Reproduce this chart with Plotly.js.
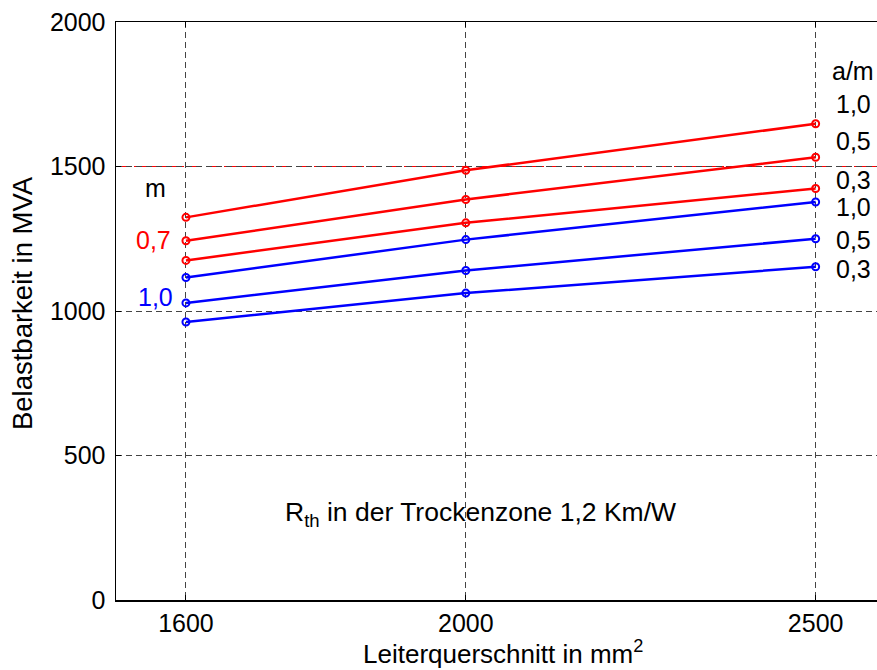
<!DOCTYPE html>
<html>
<head>
<meta charset="utf-8">
<script src="https://cdn.plot.ly/plotly-3.0.1.min.js"></script>
<style>
  html, body { margin: 0; padding: 0; background: #fff; overflow: hidden; }
  #chart { width: 877px; height: 670px; }
</style>
</head>
<body>
<div id="chart"></div>
<script>
// Leiterquerschnitt in mm^2
const querschnitt = [1600, 2000, 2500];

// m = 0,7 (red), a/m = 1,0 / 0,5 / 0,3
const rot_am10 = [1324, 1487, 1648];
const rot_am05 = [1243, 1386, 1532];
const rot_am03 = [1175, 1305, 1424];

// m = 1,0 (blue), a/m = 1,0 / 0,5 / 0,3
const blau_am10 = [1116, 1247, 1377];
const blau_am05 = [1028, 1140, 1250];
const blau_am03 = [962, 1062, 1153];

const xTicks = [1600, 2000, 2500];
const yTicks = [0, 500, 1000, 1500, 2000];
const grenzwert = 1500;

const amLabels = ["1,0", "0,5", "0,3", "1,0", "0,5", "0,3"];
const amLabelY = [1715, 1587, 1453, 1360, 1247, 1144];

const FONT = "Liberation Sans, Arial, sans-serif";
const RED = "#ff0000", BLUE = "#0000ff";

function series(y, color) {
  return {
    x: querschnitt, y: y, type: "scatter", mode: "lines+markers",
    line: { color: color, width: 2.5 },
    marker: { symbol: "circle", size: 7, color: "rgba(0,0,0,0)",
              line: { color: color, width: 2 } },
    showlegend: false, hoverinfo: "x+y"
  };
}

const data = [
  series(rot_am10, RED), series(rot_am05, RED), series(rot_am03, RED),
  series(blau_am10, BLUE), series(blau_am05, BLUE), series(blau_am03, BLUE)
];

const annotations = [];
annotations.push({ x: 2554, y: 1829, xref: "x", yref: "y", text: "a/m", showarrow: false,
  xanchor: "center", yanchor: "middle", font: { family: FONT, size: 25, color: "#000" } });
amLabels.forEach((t, i) => annotations.push({
  x: 2554, y: amLabelY[i], xref: "x", yref: "y", text: t, showarrow: false,
  xanchor: "center", yanchor: "middle", font: { family: FONT, size: 25, color: "#000" } }));
annotations.push({ x: 1557, y: 1426, xref: "x", yref: "y", text: "m", showarrow: false,
  xanchor: "center", yanchor: "middle", font: { family: FONT, size: 25, color: "#000" } });
annotations.push({ x: 1554, y: 1245, xref: "x", yref: "y", text: "0,7", showarrow: false,
  xanchor: "center", yanchor: "middle", font: { family: FONT, size: 25, color: RED } });
annotations.push({ x: 1557, y: 1048, xref: "x", yref: "y", text: "1,0", showarrow: false,
  xanchor: "center", yanchor: "middle", font: { family: FONT, size: 25, color: BLUE } });
annotations.push({ x: 2021, y: 297, xref: "x", yref: "y",
  text: "R<sub>th</sub> in der Trockenzone 1,2 Km/W", showarrow: false,
  xanchor: "center", yanchor: "middle", font: { family: FONT, size: 26.5, color: "#000" } });
// axis titles
annotations.push({ x: 0.508, y: -0.09, xref: "paper", yref: "paper",
  text: "Leiterquerschnitt in mm<sup>2</sup>", showarrow: false,
  xanchor: "center", yanchor: "middle", font: { family: FONT, size: 26, color: "#000" } });
annotations.push({ x: -0.122, y: 0.514, xref: "paper", yref: "paper",
  text: "Belastbarkeit in MVA", showarrow: false, textangle: -90,
  xanchor: "center", yanchor: "middle", font: { family: FONT, size: 27.5, color: "#000" } });

const layout = {
  width: 877, height: 670,
  margin: { l: 116, r: 0, t: 22, b: 70, pad: 0 },
  paper_bgcolor: "#fff", plot_bgcolor: "#fff",
  font: { family: FONT, size: 25, color: "#000" },
  xaxis: {
    range: [1500, 2587.7], tickvals: xTicks, ticktext: xTicks.map(String),
    showgrid: true, gridcolor: "#444", gridwidth: 1, griddash: "6px,4px",
    zeroline: false, showline: true, linecolor: "#000", linewidth: 1.5, mirror: "ticks",
    ticks: "inside", ticklen: 5, tickcolor: "#000",
    tickfont: { family: FONT, size: 25, color: "#000" }, fixedrange: true
  },
  yaxis: {
    range: [0, 2000], tickvals: yTicks, ticktext: yTicks.map(String),
    showgrid: true, gridcolor: "#444", gridwidth: 1, griddash: "6px,4px",
    zeroline: false, showline: true, linecolor: "#000", linewidth: 1.5,
    ticks: "inside", ticklen: 5, tickcolor: "#000", ticklabelstandoff: 4,
    tickfont: { family: FONT, size: 25, color: "#000" }, fixedrange: true
  },
  shapes: [{
    type: "line", xref: "paper", x0: 0, x1: 1, yref: "y", y0: grenzwert, y1: grenzwert,
    line: { color: RED, width: 1, dash: "14px,4px" }, layer: "below"
  }],
  annotations: annotations
};

Plotly.newPlot("chart", data, layout, { displayModeBar: false, staticPlot: true });
</script>
</body>
</html>
